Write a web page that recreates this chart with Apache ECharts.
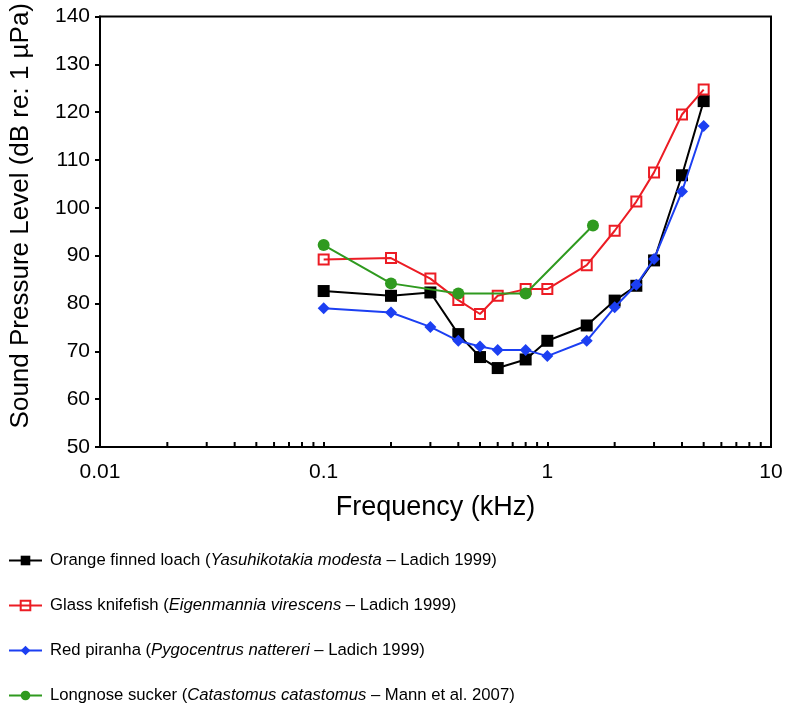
<!DOCTYPE html>
<html>
<head>
<meta charset="utf-8">
<script src="https://cdn.jsdelivr.net/npm/echarts@6/dist/echarts.min.js"></script>
<style>
  html, body { margin: 0; padding: 0; background: #fff; }
  #chart { width: 787px; height: 708px; }
</style>
</head>
<body>
<div id="chart"></div>
<script>
// ---- data ----
const freqLoach = [0.1, 0.2, 0.3, 0.4, 0.5, 0.6, 0.8, 1.0, 1.5, 2, 2.5, 3, 4, 5];
const splLoach = [82.6, 81.6, 82.3, 73.6, 68.8, 66.5, 68.3, 72.2, 75.4, 80.6, 83.7, 89.0, 106.8, 122.3];

const freqKnifefish = [0.1, 0.2, 0.3, 0.4, 0.5, 0.6, 0.8, 1.0, 1.5, 2, 2.5, 3, 4, 5];
const splKnifefish = [89.2, 89.5, 85.2, 80.7, 77.8, 81.6, 83.0, 83.0, 88.0, 95.2, 101.3, 107.4, 119.5, 124.7];

const freqPiranha = [0.1, 0.2, 0.3, 0.4, 0.5, 0.6, 0.8, 1.0, 1.5, 2, 2.5, 3, 4, 5];
const splPiranha = [79.0, 78.1, 75.1, 72.2, 71.0, 70.3, 70.3, 69.0, 72.2, 79.2, 83.9, 89.3, 103.4, 117.1];

const freqSucker = [0.1, 0.2, 0.4, 0.8, 1.6];
const splSucker = [92.2, 84.2, 82.1, 82.1, 96.3];

const commonNames = ['Orange finned loach', 'Glass knifefish', 'Red piranha', 'Longnose sucker'];
const sciNames = ['Yasuhikotakia modesta', 'Eigenmannia virescens', 'Pygocentrus nattereri', 'Catastomus catastomus'];
const sources = ['Ladich 1999', 'Ladich 1999', 'Ladich 1999', 'Mann et al. 2007'];

const xTickLabels = ['0.01', '0.1', '1', '10'];
const minorTickValues = [0.02, 0.03, 0.04, 0.05, 0.06, 0.07, 0.08, 0.09,
                         0.2, 0.3, 0.4, 0.5, 0.6, 0.7, 0.8, 0.9,
                         2, 3, 4, 5, 6, 7, 8, 9];

// ---- build ----
const pairs = (xs, ys) => xs.map((x, i) => [x, ys[i]]);
const FONT = 'Liberation Sans, Arial, Helvetica, sans-serif';
const LEGEND_SIZE = 16.7;

const chart = echarts.init(document.getElementById('chart'), null, { renderer: 'canvas' });

const mkLine = (idx, data, color, symbol, size, itemStyle) => ({
  name: commonNames[idx],
  type: 'line',
  data: data,
  symbol: symbol,
  symbolSize: size,
  lineStyle: { color: color, width: 2 },
  itemStyle: itemStyle || { color: color },
  emphasis: { disabled: true },
  animation: false,
  z: 3 + idx
});

const option = {
  backgroundColor: '#fff',
  animation: false,
  grid: {
    left: 98, right: 16, top: 14, bottom: 261,
    show: true, borderColor: '#000', borderWidth: 2, backgroundColor: 'transparent'
  },
  xAxis: {
    type: 'log',
    logBase: 10,
    min: 0.01,
    max: 10,
    name: 'Frequency (kHz)',
    nameLocation: 'middle',
    nameGap: 47,
    nameTextStyle: { fontFamily: FONT, fontSize: 27, color: '#000' },
    axisLine: { show: true, lineStyle: { color: '#000', width: 2 } },
    axisTick: { show: true, inside: true, length: 5, lineStyle: { color: '#000', width: 2 } },
    minorTick: { show: false },
    splitLine: { show: false },
    axisLabel: {
      fontFamily: FONT, fontSize: 21, color: '#000', margin: 15,
      formatter: (v) => {
        const e = Math.round(Math.log10(v));
        return xTickLabels[e + 2] !== undefined ? xTickLabels[e + 2] : '';
      }
    }
  },
  yAxis: {
    type: 'value',
    min: 50,
    max: 140,
    interval: 10,
    name: 'Sound Pressure Level (dB re: 1 µPa)',
    nameLocation: 'middle',
    nameGap: 66,
    nameTextStyle: { fontFamily: FONT, fontSize: 26, color: '#000', padding: [0, 0, 0, 32] },
    axisLine: { show: true, lineStyle: { color: '#000', width: 2 } },
    axisTick: { show: true, inside: false, length: 5, lineStyle: { color: '#000', width: 2 } },
    splitLine: { show: false },
    axisLabel: { fontFamily: FONT, fontSize: 21, color: '#000', margin: 10 }
  },
  legend: {
    orient: 'vertical',
    left: 3,
    top: 552,
    height: 156,
    padding: [0, 5, 0, 5],
    itemWidth: 33,
    itemHeight: 12,
    itemGap: 28,
    data: commonNames,
    selectedMode: false,
    formatter: (name) => {
      const i = commonNames.indexOf(name);
      return '{n|' + name + ' (}{i|' + sciNames[i] + '}{n| \u2013 ' + sources[i] + ')}';
    },
    textStyle: {
      fontFamily: FONT, fontSize: LEGEND_SIZE, color: '#000', padding: [0, 0, 0, 3],
      rich: {
        n: { fontFamily: FONT, fontSize: LEGEND_SIZE, color: '#000', lineHeight: 24 },
        i: { fontFamily: FONT, fontSize: LEGEND_SIZE, color: '#000', fontStyle: 'italic', lineHeight: 24 }
      }
    }
  },
  series: [
    {
      name: 'minorTicks',
      type: 'custom',
      silent: true,
      z: 2,
      data: minorTickValues.map(v => [v, 50]),
      renderItem: (params, api) => {
        const p = api.coord([api.value(0), api.value(1)]);
        return {
          type: 'line',
          shape: { x1: p[0], y1: p[1], x2: p[0], y2: p[1] - 5 },
          style: { stroke: '#000', lineWidth: 2 }
        };
      }
    },
    mkLine(0, pairs(freqLoach, splLoach), '#000000', 'rect', 12),
    mkLine(1, pairs(freqKnifefish, splKnifefish), '#ec1c24', 'rect', 10,
      { color: 'rgba(255,255,255,0)', borderColor: '#ec1c24', borderWidth: 2 }),
    mkLine(2, pairs(freqPiranha, splPiranha), '#1c3ff2', 'diamond', 12),
    mkLine(3, pairs(freqSucker, splSucker), '#2f9a1f', 'circle', 12)
  ]
};

chart.setOption(option);
</script>
</body>
</html>
